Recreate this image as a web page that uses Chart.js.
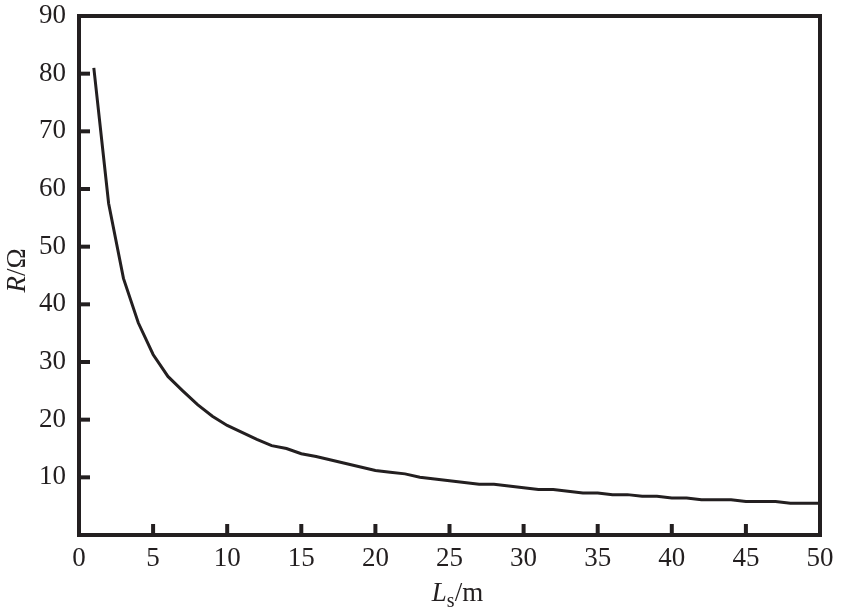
<!DOCTYPE html>
<html>
<head>
<meta charset="utf-8">
<script src="https://cdn.jsdelivr.net/npm/chart.js@4/dist/chart.umd.min.js"></script>
<style>
  html, body { margin: 0; padding: 0; background: #fff; }
  #wrap { width: 845px; height: 613px; }
</style>
</head>
<body>
<div id="wrap"><canvas id="canvas1" width="845" height="613"></canvas></div>
<script>
// cable length Ls (m) and resistance R (ohm)
var lengths = [1,2,3,4,5,6,7,8,9,10,11,12,13,14,15,16,17,18,19,20,21,22,23,24,25,
               26,27,28,29,30,31,32,33,34,35,36,37,38,39,40,41,42,43,44,45,46,47,48,49,50];
var resistance = [81,57.5,44.5,36.8,31.3,27.5,25,22.6,20.6,19,17.8,16.6,15.5,15,14.1,13.6,13,12.4,11.8,11.2,
                  10.9,10.6,10,9.7,9.4,9.1,8.8,8.8,8.5,8.2,7.9,7.9,7.6,7.3,7.3,7.0,7.0,6.7,6.7,6.4,
                  6.4,6.1,6.1,6.1,5.8,5.8,5.8,5.5,5.5,5.5];
var xTicks = [0,5,10,15,20,25,30,35,40,45,50];
var yTicks = [10,20,30,40,50,60,70,80,90];

var ink = '#231f20';
var serif = '"Liberation Serif", "DejaVu Serif", serif';

var points = lengths.map(function (l, i) { return { x: l, y: resistance[i] }; });

// frame, inward tick marks and the two axis titles
var framePlugin = {
  id: 'frame',
  afterDraw: function (chart) {
    var ctx = chart.ctx, a = chart.chartArea;
    var xs = chart.scales.x, ys = chart.scales.y;
    ctx.save();
    ctx.strokeStyle = ink;
    ctx.lineWidth = 4;
    ctx.lineCap = 'square';
    ctx.strokeRect(a.left, a.top, a.right - a.left, a.bottom - a.top);

    ctx.lineCap = 'butt';
    yTicks.forEach(function (v) {
      if (v >= 90) return;
      var py = ys.getPixelForValue(v);
      ctx.beginPath(); ctx.moveTo(a.left, py); ctx.lineTo(a.left + 11, py); ctx.stroke();
    });
    xTicks.forEach(function (v) {
      if (v <= 0 || v >= 50) return;
      var px = xs.getPixelForValue(v);
      ctx.beginPath(); ctx.moveTo(px, a.bottom); ctx.lineTo(px, a.bottom - 11); ctx.stroke();
    });

    // x title: Ls/m
    ctx.fillStyle = ink;
    ctx.textBaseline = 'alphabetic';
    var big = '27px ' + serif, small = '20px ' + serif;
    ctx.font = 'italic ' + big; var wL = ctx.measureText('L').width;
    ctx.font = small; var wS = ctx.measureText('s').width;
    ctx.font = big; var wM = ctx.measureText('/m').width;
    var cx = (a.left + a.right) / 2 + 8;
    var x0 = cx - (wL + wS + wM) / 2, base = 601;
    ctx.font = 'italic ' + big; ctx.fillText('L', x0, base);
    ctx.font = small; ctx.fillText('s', x0 + wL, base + 6);
    ctx.font = big; ctx.fillText('/m', x0 + wL + wS, base);

    // y title: R/Ω rotated
    ctx.translate(25, (a.top + a.bottom) / 2 - 5);
    ctx.rotate(-Math.PI / 2);
    ctx.font = 'italic ' + big; var wR = ctx.measureText('R').width;
    ctx.font = big; var wO = ctx.measureText('/Ω').width;
    var y0 = -(wR + wO) / 2;
    ctx.font = 'italic ' + big; ctx.fillText('R', y0, 0);
    ctx.font = big; ctx.fillText('/Ω', y0 + wR, 0);
    ctx.restore();
  }
};

new Chart(document.getElementById('canvas1'), {
  type: 'line',
  data: {
    datasets: [{
      data: points,
      borderColor: ink,
      borderWidth: 3,
      pointRadius: 0,
      tension: 0,
      fill: false
    }]
  },
  options: {
    responsive: false,
    animation: false,
    layout: { padding: { top: 16, right: 25, left: 0, bottom: 0 } },
    plugins: { legend: { display: false }, tooltip: { enabled: false } },
    scales: {
      x: {
        type: 'linear',
        min: 0, max: 50,
        border: { display: false },
        grid: { display: false, drawTicks: false },
        afterBuildTicks: function (s) { s.ticks = xTicks.map(function (v) { return { value: v }; }); },
        afterFit: function (s) { s.height = 78; s.paddingLeft = 0; s.paddingRight = 0; },
        ticks: { color: ink, padding: 8, maxRotation: 0, font: { family: serif, size: 27 } }
      },
      y: {
        min: 0, max: 90,
        border: { display: false },
        grid: { display: false, drawTicks: false },
        afterBuildTicks: function (s) { s.ticks = yTicks.map(function (v) { return { value: v }; }); },
        afterFit: function (s) { s.width = 79; s.paddingTop = 0; s.paddingBottom = 0; },
        ticks: { color: ink, padding: 13, font: { family: serif, size: 27 } }
      }
    }
  },
  plugins: [framePlugin]
});
</script>
</body>
</html>
